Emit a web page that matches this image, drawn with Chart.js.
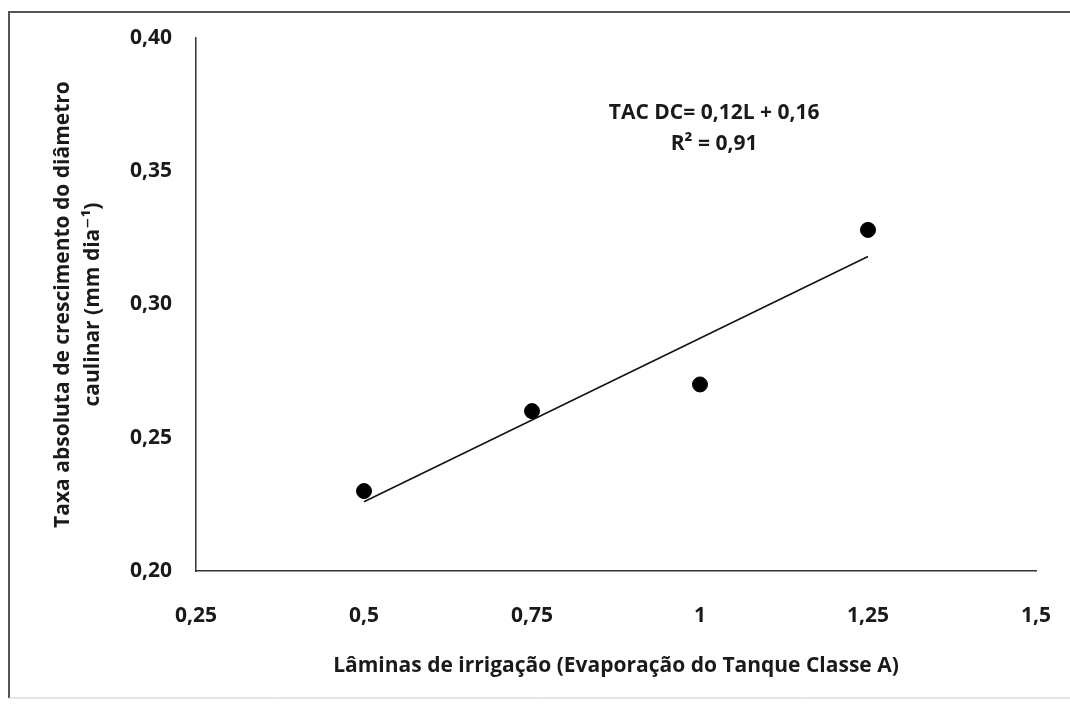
<!DOCTYPE html>
<html lang="pt">
<head>
    <meta charset="UTF-8" />
    <title>Taxa absoluta de crescimento do diâmetro caulinar</title>
    <script src="https://cdn.jsdelivr.net/npm/chart.js"></script>
    <style>
        body { margin: 0; background: #fff; }
        #wrap { width: 1070px; height: 707px; }
    </style>
</head>
<body>
    <div id="wrap">
        <canvas id="tacChart" width="1070" height="707"></canvas>
    </div>

    <script>
        // data
        const laminas = [0.5, 0.75, 1.0, 1.25];
        const tacDC = [0.23, 0.26, 0.27, 0.328];
        const trendX = [0.5, 1.25];
        const trendY = [0.226, 0.318];
        const xTickLabels = ['0,25', '0,5', '0,75', '1', '1,25', '1,5'];
        const yTickLabels = ['0,20', '0,25', '0,30', '0,35', '0,40'];
        const equationLines = ['TAC DC= 0,12L + 0,16', 'R² = 0,91'];

        const fontFamily = '"Open Sans", "DejaVu Sans", sans-serif';
        const ink = '#1a1a1a';
        const labelFont = { family: fontFamily, size: 21, weight: 'bold' };

        // frame around the figure + regression equation
        const decorations = {
            id: 'decorations',
            beforeDraw(chart) {
                const ctx = chart.ctx;
                ctx.save();
                ctx.fillStyle = '#fff';
                ctx.fillRect(0, 0, chart.width, chart.height);
                ctx.strokeStyle = '#555';
                ctx.lineWidth = 2;
                ctx.beginPath();
                ctx.moveTo(1075, 12);
                ctx.lineTo(9, 12);
                ctx.lineTo(9, 698);
                ctx.stroke();
                ctx.strokeStyle = '#ccc';
                ctx.lineWidth = 1;
                ctx.beginPath();
                ctx.moveTo(9, 698);
                ctx.lineTo(1070, 698);
                ctx.stroke();
                ctx.restore();
            },
            afterDraw(chart) {
                const ctx = chart.ctx;
                const x = chart.scales.x.getPixelForValue(1.021);
                const y = chart.scales.y.getPixelForValue(0.372);
                ctx.save();
                ctx.fillStyle = ink;
                ctx.font = 'bold 21px ' + fontFamily;
                ctx.textAlign = 'center';
                ctx.textBaseline = 'middle';
                equationLines.forEach((t, i) => ctx.fillText(t, x, y + i * 31));
                ctx.restore();
            }
        };

        new Chart(document.getElementById('tacChart'), {
            type: 'scatter',
            data: {
                datasets: [
                    {
                        label: 'TAC DC',
                        data: laminas.map((l, i) => ({ x: l, y: tacDC[i] })),
                        backgroundColor: '#000',
                        borderColor: '#000',
                        pointRadius: 7.5,
                        pointHoverRadius: 7.5
                    },
                    {
                        label: 'Linear',
                        type: 'line',
                        data: trendX.map((l, i) => ({ x: l, y: trendY[i] })),
                        borderColor: '#111',
                        borderWidth: 1.5,
                        pointRadius: 0,
                        fill: false
                    }
                ]
            },
            options: {
                responsive: false,
                animation: false,
                layout: { padding: { left: 0, top: 38, right: 34, bottom: 0 } },
                plugins: {
                    legend: { display: false },
                    tooltip: { enabled: false }
                },
                scales: {
                    x: {
                        type: 'linear',
                        min: 0.25,
                        max: 1.5,
                        grid: { display: false, drawTicks: false },
                        border: { color: '#333', width: 1.5 },
                        ticks: {
                            stepSize: 0.25,
                            padding: 32,
                            color: ink,
                            font: labelFont,
                            callback: (v, i) => xTickLabels[i]
                        },
                        title: {
                            display: true,
                            text: 'Lâminas de irrigação (Evaporação do Tanque Classe A)',
                            color: ink,
                            font: labelFont,
                            padding: { top: 0, bottom: 28 }
                        },
                        afterFit(scale) {
                            scale.height = 136;
                            scale.paddingLeft = 0;
                            scale.paddingRight = 0;
                        }
                    },
                    y: {
                        min: 0.2,
                        max: 0.4,
                        grid: { display: false, drawTicks: false },
                        border: { color: '#333', width: 1.5 },
                        ticks: {
                            stepSize: 0.05,
                            padding: 24,
                            color: ink,
                            font: labelFont,
                            callback: (v, i) => yTickLabels[i]
                        },
                        title: {
                            display: true,
                            text: ['Taxa absoluta de crescimento do diâmetro', 'caulinar (mm dia⁻¹)'],
                            color: ink,
                            font: { family: fontFamily, size: 21, weight: 'bold', lineHeight: 1.43 },
                            padding: { top: 48, bottom: 0 }
                        },
                        afterFit(scale) {
                            scale.width = 196;
                            scale.paddingTop = 0;
                            scale.paddingBottom = 0;
                        }
                    }
                }
            },
            plugins: [decorations]
        });
    </script>
</body>
</html>
